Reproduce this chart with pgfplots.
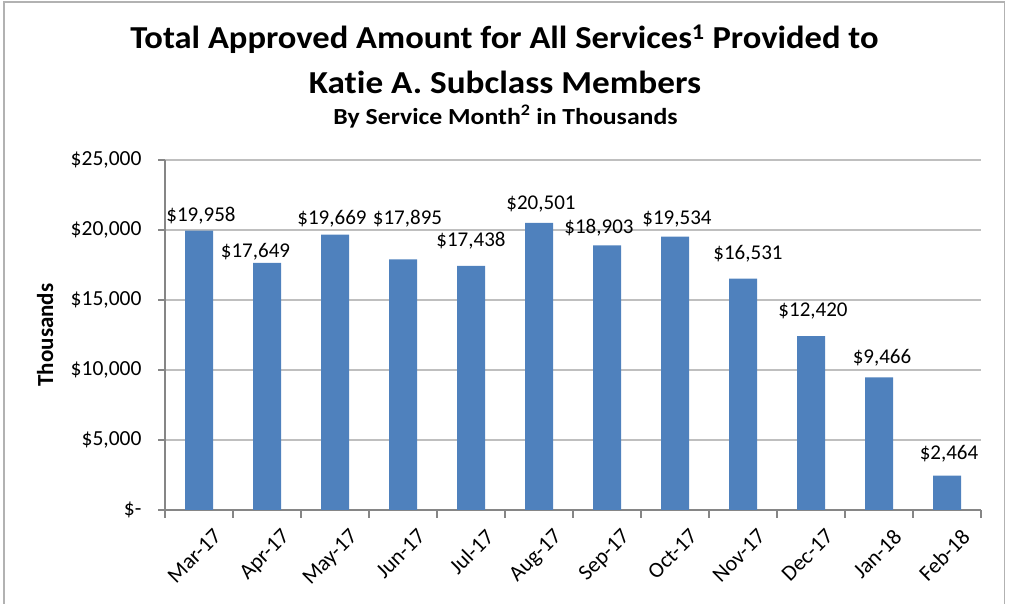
\documentclass[border=0pt]{standalone}
\usepackage{pgfplots}
\usepackage{pgfplotstable}
\pgfplotsset{compat=1.18}
\usepackage{fontspec}
\setmainfont{Carlito}[Ligatures=NoCommon]
\definecolor{barblue}{HTML}{4F81BD}
\definecolor{gridgray}{HTML}{BFBFBF}
\definecolor{axisgray}{HTML}{868686}
\pgfplotstableread{
x y dx dy
0 19958 2 9
1 17649 -11.5 5
2 19669 -3 10
3 17895 4.5 35
4 17438 0 19
5 20501 2 13
6 18903 -8 12
7 19534 2 12
8 16531 5 19
9 12420 2 20
10 9466 3 14
11 2464 2 16
}\amounts
\begin{document}
\begin{tikzpicture}[x=1pt,y=1pt]
\useasboundingbox (0,0) rectangle (1009,604);
\draw[color=gray!60, line width=1.5pt] (4,-10) -- (4,602) -- (1004.5,602) -- (1004.5,-10);
\node[anchor=base, xscale=1.08, font=\fontsize{32}{38}\selectfont\bfseries] at (504.5,555.7) {Total Approved Amount for All Services\textsuperscript{1} Provided to};
\node[anchor=base, xscale=1.1, font=\fontsize{32}{38}\selectfont\bfseries] at (505,510.7) {Katie A. Subclass Members};
\node[anchor=base, xscale=1.12, font=\fontsize{23}{28}\selectfont\bfseries] at (505.5,479.7) {By Service Month\textsuperscript{2} in Thousands};
\begin{axis}[
  at={(165pt,94pt)}, anchor=south west,
  width=816pt, height=350pt, scale only axis,
  xmin=-0.5, xmax=11.5, ymin=0, ymax=25000,
  axis x line*=bottom, axis y line*=left,
  axis line style={draw=axisgray, line width=1.2pt, -},
  xtick={0,...,11},
  xticklabels={Mar-17,Apr-17,May-17,Jun-17,Jul-17,Aug-17,Sep-17,Oct-17,Nov-17,Dec-17,Jan-18,Feb-18},
  x tick label style={rotate=45, anchor=north east, font=\fontsize{22}{26}\selectfont, inner sep=1pt, yshift=-16pt, xshift=3pt},
  major x tick style={draw=none},
  minor xtick={-0.5,0.5,...,11.5},
  minor x tick style={draw=axisgray, line width=1.2pt},
  minor tick length=8pt,
  tick align=outside,
  scaled y ticks=false,
  ytick={0,5000,10000,15000,20000,25000},
  yticklabels={{\$-\hspace{12pt}},{\$5,000},{\$10,000},{\$15,000},{\$20,000},{\$25,000}},
  y tick label style={font=\fontsize{21.5}{25}\selectfont, xshift=-13pt},
  major y tick style={draw=axisgray, line width=1.2pt},
  major tick length=7pt,
  ymajorgrids, grid style={draw=gridgray, line width=1.2pt},
  ylabel={Thousands},
  ylabel style={at={(axis description cs:-0.147,0.5)}, anchor=center, font=\fontsize{23}{27}\selectfont\bfseries},
  /pgf/number format/assume math mode=true,
  visualization depends on={\thisrow{dx} \as \labeldx},
  visualization depends on={\thisrow{dy} \as \labeldy},
  nodes near coords={\$\pgfmathprintnumber[fixed,1000 sep={,}]{\pgfplotspointmeta}},
  nodes near coords style={font=\fontsize{21}{25}\selectfont, anchor=base, inner sep=0pt, yshift=\labeldy pt, xshift=\labeldx pt},
]
\addplot[ybar, bar width=28pt, fill=barblue, draw=none] table[x=x, y=y] {\amounts};
\end{axis}
\end{tikzpicture}
\end{document}
